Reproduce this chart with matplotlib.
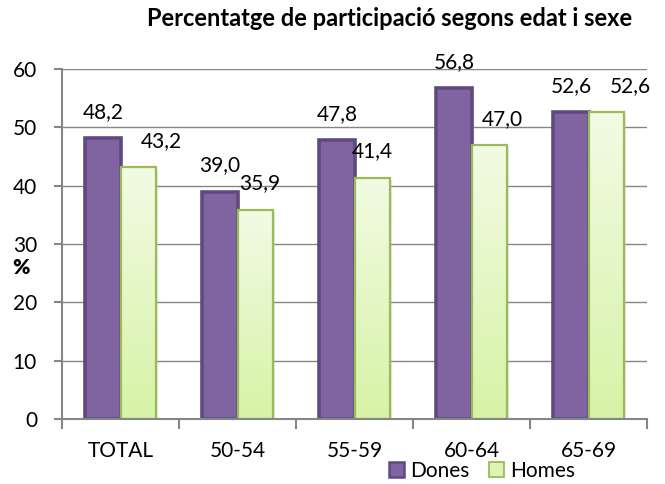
import numpy as np
import matplotlib
matplotlib.use("Agg")
import matplotlib.pyplot as plt
from matplotlib.colors import LinearSegmentedColormap
import matplotlib.transforms as mtransforms
from matplotlib.patches import Patch

categories = ["TOTAL", "50-54", "55-59", "60-64", "65-69"]
dones = [48.2, 39.0, 47.8, 56.8, 52.6]
homes = [43.2, 35.9, 41.4, 47.0, 52.6]
yticks = [0, 10, 20, 30, 40, 50, 60]
title = "Percentatge de participació segons edat i sexe"

# label horizontal nudges (pixels) to mimic Excel's collision avoidance
homes_dx = [23, 5, 0, 13, 24]
dones_dx = [0, 0, 0, 0, 0]

plt.rcParams['font.family'] = ['Lato', 'DejaVu Sans']

fig = plt.figure(figsize=(6.65, 4.84), dpi=100)
ax = fig.add_axes([62/665, 1-419/484, (647-62)/665, (419-69)/484])

x = np.arange(len(categories))
w = 0.30
grey = '#868686'
fs = 15

ax.set_xlim(-0.5, len(categories)-0.5)
ax.set_ylim(0, 60)
ax.set_yticks(yticks)
ax.yaxis.grid(True, color=grey, lw=1.0, zorder=0)
ax.set_axisbelow(True)

# shadows
shadow_tr = mtransforms.offset_copy(ax.transData, fig=fig, x=2.5, y=-2.5, units='dots')
ax.bar(x - w/2, dones, w, color='#bbbbbb', alpha=0.35, transform=shadow_tr, zorder=1, lw=0)
ax.bar(x + w/2, homes, w, color='#bbbbbb', alpha=0.35, transform=shadow_tr, zorder=1, lw=0)

b1 = ax.bar(x - w/2, dones, w, facecolor='#8064A2', edgecolor='#5F4A7E', linewidth=2.6, zorder=3, label='Dones')
b2 = ax.bar(x + w/2, homes, w, facecolor='none', edgecolor='#9BBB59', linewidth=1.6, zorder=4, label='Homes')

cmap = LinearSegmentedColormap.from_list('g', ['#D7F3A6', '#F2FBE4'])
grad = np.linspace(0, 1, 256).reshape(-1, 1)
for p in b2.patches:
    x0, y0 = p.get_x(), p.get_y()
    im = ax.imshow(grad, extent=[x0, x0 + p.get_width(), y0, y0 + p.get_height()],
                   origin='lower', aspect='auto', cmap=cmap, zorder=3.5)
    im.set_clip_path(p)

ax.set_xlim(-0.5, len(categories)-0.5)
ax.set_ylim(0, 60)

def fmt(v):
    return f"{v:.1f}".replace('.', ',')

for p, v, dx in zip(b1.patches, dones, dones_dx):
    ax.annotate(fmt(v), xy=(p.get_x() + p.get_width()/2, v), xytext=(dx, 26),
                textcoords='offset pixels', ha='center', va='center', fontsize=fs, color='black')
for p, v, dx in zip(b2.patches, homes, homes_dx):
    ax.annotate(fmt(v), xy=(p.get_x() + p.get_width()/2, v), xytext=(dx, 26),
                textcoords='offset pixels', ha='center', va='center', fontsize=fs, color='black')

ax.set_xticks(x)
ax.set_xticklabels(categories, fontsize=fs)
ax.set_xticks(np.arange(-0.5, len(categories)), minor=True)
ax.tick_params(axis='x', which='major', length=0, pad=16)
ax.tick_params(axis='x', which='minor', length=7, width=1.5, color=grey, direction='out')
ax.tick_params(axis='y', length=6, width=1.5, color=grey, direction='out', pad=12, labelsize=fs)

for s in ['top', 'right']:
    ax.spines[s].set_visible(False)
for s in ['left', 'bottom']:
    ax.spines[s].set_color(grey)
    ax.spines[s].set_linewidth(1.5)
    ax.spines[s].set_zorder(5)

fig.text(390/665, 1-19/484, title, ha='center', va='center', fontsize=17, fontweight='bold')
fig.text(21/665, 1-268/484, '%', ha='center', va='center', fontsize=fs, fontweight='heavy')

handles = [Patch(facecolor='#8064A2', edgecolor='#5F4A7E', linewidth=1.8),
           Patch(facecolor='#DDF5B0', edgecolor='#9BBB59', linewidth=1.3)]
fig.legend(handles, ['Dones', 'Homes'], loc='center', bbox_to_anchor=(482/665, 1-471/484),
           ncol=2, frameon=False, fontsize=fs, handlelength=0.75, handleheight=0.75,
           handletextpad=0.3, columnspacing=0.9, borderpad=0)

fig.savefig('out.png', dpi=100)
